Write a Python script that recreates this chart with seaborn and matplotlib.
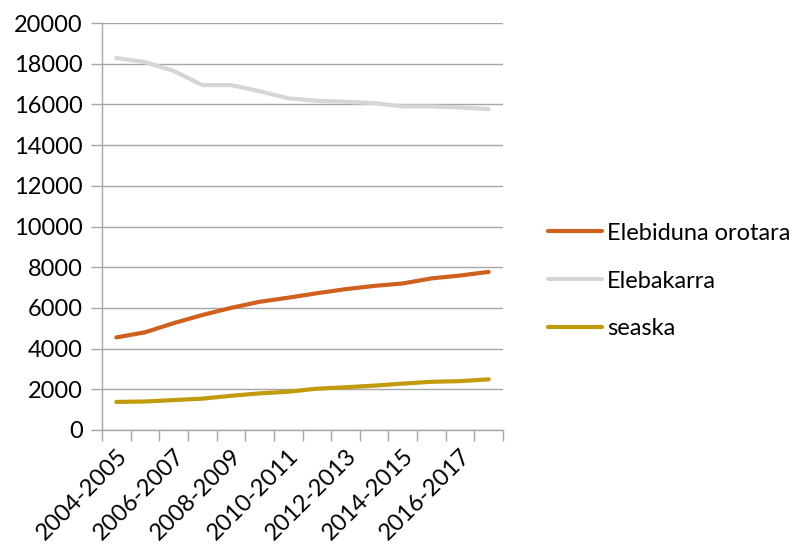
import numpy as np
import pandas as pd
import matplotlib
matplotlib.use("Agg")
import matplotlib.pyplot as plt
import seaborn as sns

# School years (14 seasons)
years = ["2004-2005", "2005-2006", "2006-2007", "2007-2008", "2008-2009",
         "2009-2010", "2010-2011", "2011-2012", "2012-2013", "2013-2014",
         "2014-2015", "2015-2016", "2016-2017", "2017-2018"]

elebiduna = [4550, 4800, 5250, 5650, 6000, 6300, 6500, 6720, 6920, 7080,
             7200, 7450, 7590, 7770]
elebakarra = [18280, 18080, 17650, 16950, 16950, 16650, 16300, 16180, 16130,
              16060, 15900, 15900, 15850, 15770]
seaska = [1380, 1400, 1470, 1540, 1680, 1800, 1880, 2030, 2100, 2180,
          2280, 2370, 2400, 2490]

series_names = ["Elebiduna orotara", "Elebakarra", "seaska"]
colors = ["#D0601E", "#D6D6D6", "#C29A0C"]

rows = []
for name, vals in zip(series_names, [elebiduna, elebakarra, seaska]):
    for i, v in enumerate(vals):
        rows.append({"pos": i, "year": years[i], "value": v, "series": name})
df = pd.DataFrame(rows)

sns.set_theme(style="white")
plt.rcParams["font.family"] = ["Lato", "DejaVu Sans"]
FS = 17

fig = plt.figure(figsize=(8.01, 5.45), dpi=100)
W, H = 801, 545
ax = fig.add_axes([102 / W, (H - 430) / H, (503 - 102) / W, (430 - 23) / H])

sns.lineplot(data=df, x="pos", y="value", hue="series", hue_order=series_names,
             palette=colors, linewidth=3.0, sort=False, ax=ax, legend=True)

ax.set_xlim(-0.5, len(years) - 0.5)
ax.set_ylim(0, 20000)
ax.set_yticks(np.arange(0, 20001, 2000))
ax.set_yticklabels([str(v) for v in range(0, 20001, 2000)], fontsize=FS,
                   color="#000000")
ax.yaxis.grid(True, color="#A6A6A6", linewidth=1.0)
ax.set_axisbelow(True)
ax.set_xlabel("")
ax.set_ylabel("")

# category labels every other season, tick marks on category boundaries
ax.set_xticks(np.arange(0, len(years), 2))
ax.set_xticklabels(years[::2], rotation=45, ha="right", rotation_mode="anchor",
                   fontsize=FS, color="#000000")
ax.set_xticks(np.arange(-0.5, len(years), 1), minor=True)
ax.tick_params(axis="x", which="major", length=0, pad=11)
ax.tick_params(axis="x", which="minor", length=8, color="#A6A6A6", width=1.0,
               bottom=True)
ax.tick_params(axis="y", length=8, color="#A6A6A6", width=1.0, left=True, pad=6)

for s in ["top", "right"]:
    ax.spines[s].set_visible(False)
for s in ["left", "bottom"]:
    ax.spines[s].set_color("#A6A6A6")
    ax.spines[s].set_linewidth(1.0)

handles, labels = ax.get_legend_handles_labels()
ax.legend(handles, labels, loc="center left", bbox_to_anchor=(548 / W, (H - 281) / H),
          bbox_transform=fig.transFigure, frameon=False, fontsize=FS,
          borderpad=0, borderaxespad=0,
          handlelength=2.3, handletextpad=0.2, labelspacing=1.14,
          labelcolor="#000000")

fig.savefig("out.png", dpi=100)
